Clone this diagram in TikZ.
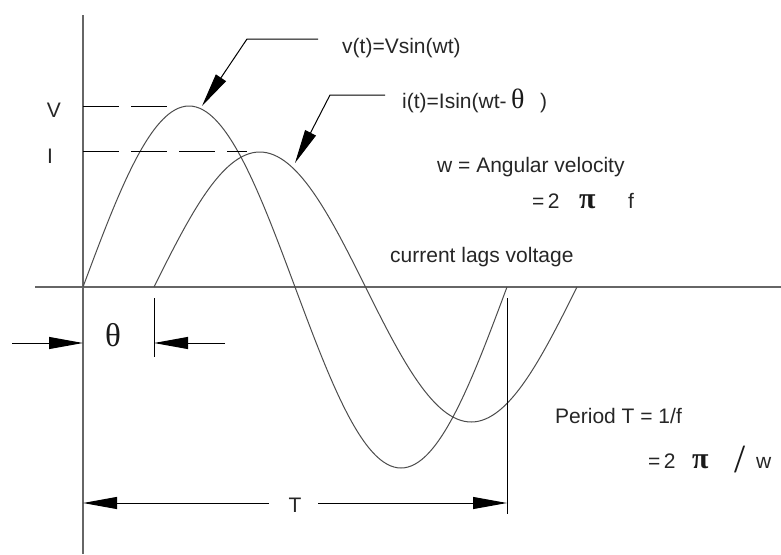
\documentclass[tikz,border=0pt]{standalone}
\usepackage{fontspec}
\setmainfont{Liberation Sans}
\newfontfamily\timesf{Liberation Serif}
\usetikzlibrary{arrows.meta}
\begin{document}
\begin{tikzpicture}[x=1pt,y=-1pt,
  lbl/.style={font=\fontsize{21}{25}\selectfont, text=black!85, inner sep=0pt},
  grk/.style={font=\timesf\fontsize{30}{32}\selectfont, text=black!90, inner sep=0pt},
  pisym/.style={font=\timesf\bfseries\fontsize{30}{32}\selectfont, text=black!90, inner sep=0pt},
  axisline/.style={draw=black!60, line width=1.5pt},
  wave/.style={draw=black!70, line width=1pt},
  thinline/.style={draw=black, line width=1pt},
  dashline/.style={draw=black, line width=1pt, dash pattern=on 36pt off 12pt},
  tip/.style={-{Triangle[length=34pt,width=12pt]}}]
\useasboundingbox (0,0) rectangle (781,554);
% axes
\coordinate (ytop) at (83,15);
\coordinate (ybot) at (83,554);
\coordinate (xleft) at (35,287);
\coordinate (xright) at (781,287);
\draw[axisline] (ytop) -- (ybot);
\draw[axisline] (xleft) -- (xright);
% waves
\draw[wave] plot[domain=0:360, samples=121, smooth] ({83+1.17778*\x},{287-181*sin(\x)});
\draw[wave] plot[domain=0:360, samples=121, smooth] ({154+1.175*\x},{287-135*sin(\x)});
% peak levels
\coordinate (vl0) at (83,106); \coordinate (vl1) at (178,106);
\coordinate (il0) at (83,151); \coordinate (il1) at (247,151);
\draw[dashline] (vl0) -- (vl1);
\draw[dashline] (il0) -- (il1);
\node[lbl] (Vlab) at (54,110) {V};
\node[lbl] (Ilab) at (50,156) {I};
% callouts
\node[lbl, anchor=base west] (vtxt) at (342,53) {v(t)=Vsin(wt)};
\coordinate (vend) at (318,39); \coordinate (vcorner) at (247,39); \coordinate (vtip) at (202,106);
\draw[thinline, tip] (vend) -- (vcorner) -- (vtip);
\node[lbl, anchor=base west] (itxt) at (402,108) {i(t)=Isin(wt-};
\node[grk, font=\timesf\fontsize{28}{30}\selectfont, anchor=base west] (ith) at (511,108) {θ};
\node[lbl, anchor=base west] (ipar) at (540,108) {)};
\coordinate (iend) at (385,95); \coordinate (icorner) at (330,95); \coordinate (itip) at (295,163);
\draw[thinline, tip] (iend) -- (icorner) -- (itip);
% texts right
\node[lbl, anchor=base west] (wtxt) at (437,172) {w = Angular velocity};
\node[lbl, anchor=base west] (weq) at (532,208) {=\,2};
\node[pisym, anchor=base west] (wpi) at (579,208) {π};
\node[lbl, anchor=base west] (wf) at (628,208) {f};
\node[lbl, anchor=base west] (lag) at (390,262) {current lags voltage};
\node[lbl, anchor=base west] (ptxt) at (555,423) {Period T = 1/f};
\node[lbl, anchor=base west] (peq) at (648,468) {=\,2};
\node[pisym, anchor=base west] (ppi) at (692,468) {π};
\node[grk, font=\timesf\fontsize{40}{42}\selectfont, anchor=base west] (pslash) at (734,472) {/};
\node[lbl, anchor=base west] (pw) at (756,468) {w};
% theta marker
\coordinate (m1top) at (154,298); \coordinate (m1bot) at (154,357);
\draw[thinline] (m1top) -- (m1bot);
\coordinate (tl0) at (12,343); \coordinate (tl1) at (83,343);
\coordinate (tr0) at (225,343); \coordinate (tr1) at (154,343);
\draw[thinline, tip] (tl0) -- (tl1);
\draw[thinline, tip] (tr0) -- (tr1);
\node[grk, font=\timesf\fontsize{33}{35}\selectfont] (th) at (113,335) {θ};
% period marker
\coordinate (m2top) at (507,298); \coordinate (m2bot) at (507,514);
\draw[thinline] (m2top) -- (m2bot);
\node[lbl] (Tlab) at (295,505) {T};
\coordinate (pl) at (83,503); \coordinate (pr) at (507,503);
\draw[thinline, tip] ([xshift=-26pt]Tlab.center |- pl) -- (pl);
\draw[thinline, tip] ([xshift=23pt]Tlab.center |- pr) -- (pr);
\end{tikzpicture}
\end{document}
